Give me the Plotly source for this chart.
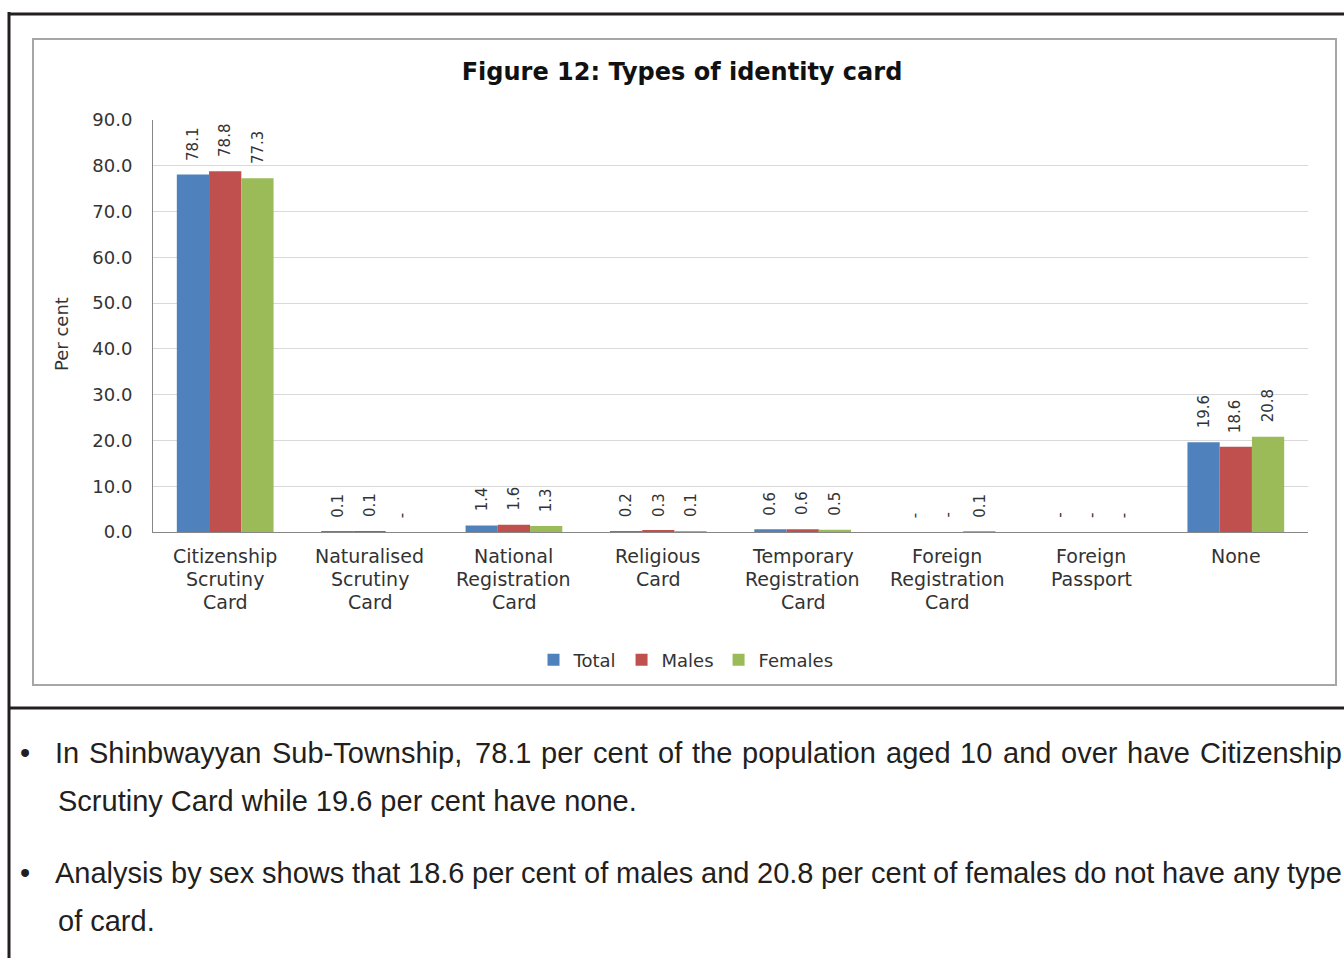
import plotly.graph_objects as go

W, H = 1344, 958

# ---------------- data ----------------
categories = [
    "Citizenship Scrutiny Card",
    "Naturalised Scrutiny Card",
    "National Registration Card",
    "Religious Card",
    "Temporary Registration Card",
    "Foreign Registration Card",
    "Foreign Passport",
    "None",
]
category_label_lines = [
    ["Citizenship", "Scrutiny", "Card"],
    ["Naturalised", "Scrutiny", "Card"],
    ["National", "Registration", "Card"],
    ["Religious", "Card"],
    ["Temporary", "Registration", "Card"],
    ["Foreign", "Registration", "Card"],
    ["Foreign", "Passport"],
    ["None"],
]
series_names = ["Total", "Males", "Females"]
total = [78.1, 0.1, 1.4, 0.2, 0.6, 0.0, 0.0, 19.6]
males = [78.8, 0.1, 1.6, 0.3, 0.6, 0.0, 0.0, 18.6]
females = [77.3, 0.0, 1.3, 0.1, 0.5, 0.1, 0.0, 20.8]
series_values = [total, males, females]
series_colors = ["#4F81BD", "#C0504D", "#9BBB59"]
y_ticks = [0, 10, 20, 30, 40, 50, 60, 70, 80, 90]
y_tick_labels = ["%.1f" % v for v in y_ticks]

title_text = "Figure 12: Types of identity card"
y_title = "Per cent"

para1_line1 = "In Shinbwayyan Sub-Township, 78.1 per cent of the population aged 10 and over have Citizenship"
para1_line2 = "Scrutiny Card while 19.6 per cent have none."
para2_line1 = "Analysis by sex shows that 18.6 per cent of males and 20.8 per cent of females do not have any type"
para2_line2 = "of card."


def px(x):
    return x / W


def py(y):
    return 1 - y / H


# ---------------- layout constants ----------------
PLOT_L, PLOT_R, PLOT_T, PLOT_B = 153, 1308, 120, 532
BARGAP = 0.33
bar_w_px = (PLOT_R - PLOT_L) / len(categories) * (1 - BARGAP) / len(series_names)

LABEL_FONT = dict(family="DejaVu Sans", size=15, color="#333333")
AXIS_FONT = dict(family="DejaVu Sans", size=18, color="#333333")
CAT_FONT = dict(family="DejaVu Sans", size=19, color="#333333")
BODY_FONT = dict(family="Liberation Sans", size=29, color="#231F20")

fig = go.Figure()
for name, vals, col in zip(series_names, series_values, series_colors):
    fig.add_trace(go.Bar(
        name=name, x=categories, y=vals,
        marker=dict(color=col, line=dict(width=0)),
        hoverinfo="x+y+name",
    ))

annotations = []

# value labels (rotated), "-" for nil
n_series = len(series_names)
for si, vals in enumerate(series_values):
    offset = (si - (n_series - 1) / 2) * bar_w_px
    for cat, v in zip(categories, vals):
        annotations.append(dict(
            x=cat, y=v, xref="x", yref="y",
            text=("-" if v == 0 else "%.1f" % v),
            textangle=-90, showarrow=False,
            xanchor="center", yanchor="bottom",
            xshift=offset, yshift=12,
            font=LABEL_FONT,
        ))

# category labels (one annotation per line)
line_centers = [556, 579, 602]
for cat, lines in zip(categories, category_label_lines):
    for li, t in enumerate(lines):
        annotations.append(dict(
            x=cat, xref="x", y=py(line_centers[li]), yref="paper",
            text=t, showarrow=False, xanchor="center", yanchor="middle",
            font=CAT_FONT,
        ))

# y-axis title
annotations.append(dict(
    x=px(61), y=py(334), xref="paper", yref="paper", text=y_title,
    textangle=-90, showarrow=False, xanchor="center", yanchor="middle",
    font=AXIS_FONT,
))

# ---------------- body text ----------------
ARIAL_W = {
    ' ': 278, ',': 278, '-': 333, '.': 278, ':': 278,
    '0': 556, '1': 556, '2': 556, '3': 556, '4': 556, '5': 556, '6': 556, '7': 556, '8': 556, '9': 556,
    'A': 667, 'C': 722, 'I': 278, 'S': 667, 'T': 611,
    'a': 556, 'b': 556, 'c': 500, 'd': 556, 'e': 556, 'f': 278, 'g': 556, 'h': 556, 'i': 222,
    'j': 222, 'k': 500, 'l': 222, 'm': 833, 'n': 556, 'o': 556, 'p': 556, 'q': 556, 'r': 333,
    's': 500, 't': 278, 'u': 556, 'v': 500, 'w': 722, 'x': 500, 'y': 500, 'z': 500,
}


def text_w(s, size):
    return sum(ARIAL_W.get(c, 556) for c in s) * size / 1000.0


def justified_line(text, x0, x1, ycenter, font):
    words = text.split(" ")
    size = font["size"]
    widths = [text_w(w, size) for w in words]
    gap = (x1 - x0 - sum(widths)) / (len(words) - 1)
    x = x0
    out = []
    for w, wd in zip(words, widths):
        out.append(dict(x=px(x - 2), y=py(ycenter), xref="paper", yref="paper", text=w,
                        showarrow=False, xanchor="left", yanchor="middle", font=font))
        x += wd + gap
    return out


annotations += justified_line(para1_line1, 55, 1342, 753, BODY_FONT)
annotations.append(dict(x=px(56), y=py(801), xref="paper", yref="paper", text=para1_line2,
                        showarrow=False, xanchor="left", yanchor="middle", font=BODY_FONT))
annotations += justified_line(para2_line1, 55, 1342, 873, BODY_FONT)
annotations.append(dict(x=px(56), y=py(921), xref="paper", yref="paper", text=para2_line2,
                        showarrow=False, xanchor="left", yanchor="middle", font=BODY_FONT))
for yb in (753, 873):
    annotations.append(dict(x=px(25), y=py(yb), xref="paper", yref="paper", text="\u2022",
                            showarrow=False, xanchor="center", yanchor="middle", font=BODY_FONT))

# ---------------- frames ----------------
shapes = [
    dict(type="line", xref="paper", yref="paper", x0=px(9), x1=px(9), y0=py(12), y1=py(970),
         line=dict(color="#231F20", width=3)),
    dict(type="line", xref="paper", yref="paper", x0=px(8), x1=px(1360), y0=py(14), y1=py(14),
         line=dict(color="#231F20", width=3)),
    dict(type="line", xref="paper", yref="paper", x0=px(8), x1=px(1360), y0=py(708), y1=py(708),
         line=dict(color="#231F20", width=3)),
    dict(type="rect", xref="paper", yref="paper", x0=px(33), x1=px(1336), y0=py(39), y1=py(685),
         line=dict(color="#A6A6A6", width=2), fillcolor="rgba(0,0,0,0)", layer="below"),
]

fig.update_layout(
    width=W, height=H, autosize=False,
    margin=dict(l=0, r=0, t=0, b=0, autoexpand=False),
    paper_bgcolor="white", plot_bgcolor="white",
    barmode="group", bargap=BARGAP, bargroupgap=0,
    title=dict(text=title_text, x=px(682), xanchor="center", xref="paper",
               y=py(72), yanchor="middle", yref="paper", automargin=False,
               font=dict(family="DejaVu Sans", size=24, color="#111111", weight="bold")),
    xaxis=dict(domain=[px(PLOT_L), px(PLOT_R)], showticklabels=False, showline=True, automargin=False,
               linecolor="#868686", linewidth=1, showgrid=False, ticks="", zeroline=False),
    yaxis=dict(domain=[py(PLOT_B), py(PLOT_T)], range=[0, 90], tickvals=y_ticks, ticktext=y_tick_labels,
               showline=True, linecolor="#868686", linewidth=1, gridcolor="#D9D9D9", gridwidth=1,
               automargin=False,
               ticks="", ticklabelstandoff=16, tickfont=AXIS_FONT, zeroline=False),
    legend=dict(orientation="h", x=px(686), xanchor="center", y=py(660), yanchor="middle",
                font=AXIS_FONT, bgcolor="rgba(0,0,0,0)", traceorder="normal"),
    annotations=annotations,
    shapes=shapes,
)

fig.write_html("out.html", config={"displayModeBar": False},
               post_script="document.body.style.margin='0';")
